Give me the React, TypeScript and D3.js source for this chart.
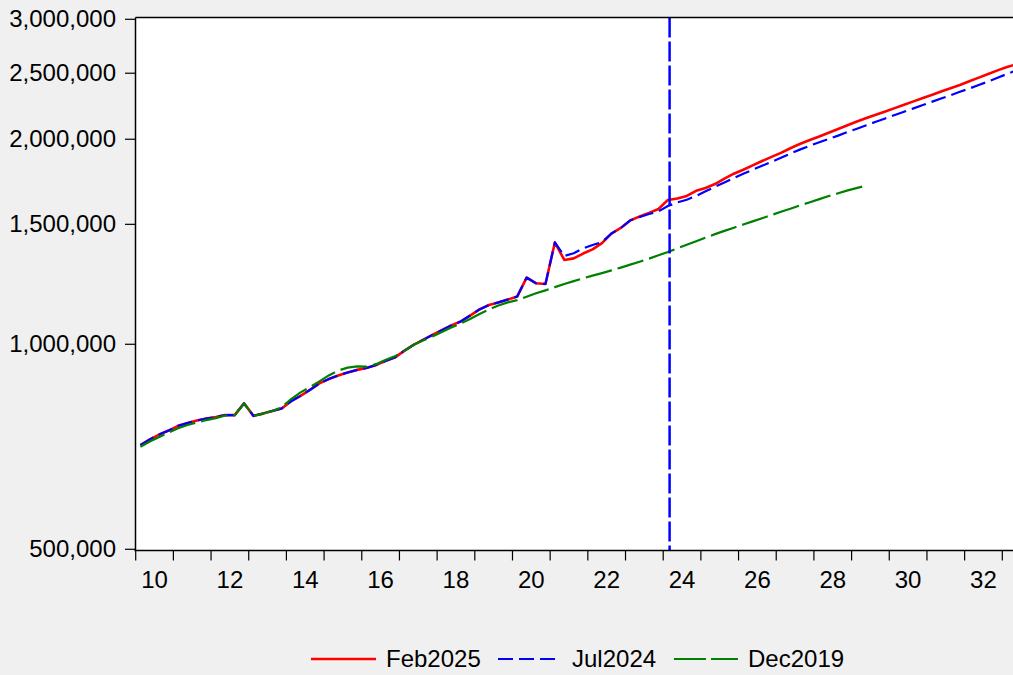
import React from "react";
import * as d3 from "d3";

// Quarterly observations, first quarter = 2010Q1
const START_YEAR = 2010;

const feb2025 = [
  711, 725, 737, 747,
  759, 766, 773, 778,
  782, 787, 787, 819,
  785, 791, 798, 805,
  825, 840, 857, 876,
  889, 900, 909, 917,
  923, 932, 945, 956,
  978, 998, 1015, 1032,
  1049, 1066, 1080, 1102,
  1125, 1142, 1152, 1163,
  1175, 1253, 1229, 1226,
  1411, 1330, 1337, 1359,
  1378, 1408, 1454, 1482,
  1520, 1540, 1559, 1580,
  1629, 1637, 1651, 1680,
  1696, 1719, 1751, 1780,
  1804, 1831, 1858, 1884,
  1910, 1940, 1968, 1993,
  2017, 2043, 2069, 2095,
  2122, 2147, 2171, 2195,
  2220, 2245, 2271, 2297,
  2323, 2350, 2377, 2403,
  2433, 2463, 2494, 2524,
  2553, 2577, 2606, 2635,
].map((v) => v * 1000);

const jul2024 = [
  711, 725, 737, 747,
  759, 766, 773, 778,
  782, 787, 787, 819,
  785, 791, 798, 805,
  825, 840, 857, 876,
  889, 900, 909, 917,
  923, 932, 945, 956,
  978, 998, 1015, 1032,
  1049, 1066, 1080, 1102,
  1125, 1142, 1152, 1163,
  1175, 1253, 1229, 1226,
  1411, 1348, 1360, 1383,
  1399, 1412, 1454, 1482,
  1520, 1538, 1553, 1567,
  1596, 1615, 1630, 1651,
  1677, 1703, 1728, 1754,
  1780, 1804, 1828, 1853,
  1878, 1905, 1931, 1955,
  1978, 2000, 2023, 2048,
  2071, 2095, 2120, 2144,
  2169, 2193, 2218, 2244,
  2269, 2295, 2321, 2348,
  2374, 2402, 2431, 2462,
  2494, 2525, 2556, 2588,
].map((v) => v * 1000);

const dec2019 = [
  707, 720, 731, 742,
  753, 761, 768, 774,
  779, 786, 786, 819,
  785, 791, 798, 808,
  831, 850, 865, 882,
  900, 915, 924, 928,
  927, 935, 948, 960,
  978, 998, 1013, 1027,
  1042, 1058, 1073, 1089,
  1108, 1125, 1140, 1152,
  1161, 1174, 1188, 1200,
  1213, 1226, 1238, 1250,
  1261, 1272, 1284, 1296,
  1309, 1322, 1336, 1351,
  1366, 1383, 1400, 1417,
  1434, 1451, 1467, 1483,
  1499, 1515, 1531, 1548,
  1565, 1581, 1599, 1615,
  1632, 1649, 1665, 1681,
  1695, 1709,
].map((v) => v * 1000);

const xTickYears = d3.range(2010, 2036);
const xLabelYears = d3.range(2010, 2034, 2);
const yTicks = [500000, 1000000, 1500000, 2000000, 2500000, 3000000];
const markerYear = 2024.17;

const seriesNames = ["Feb2025", "Jul2024", "Dec2019"];

const W = 1013;
const H = 675;
const FONT = "'Liberation Sans', Arial, Helvetica, sans-serif";

const x = d3.scaleLinear().domain([2010, 2033]).range([135.7, 1002.3]);
const y = d3.scaleLog().domain([500000, 3000000]).range([549.3, 19.3]);

const plotLeft = 135.5;
const plotTop = 17.5;
const plotBottom = 550.5;
const plotRight = x(2036);

const toPoints = (vals: number[]) =>
  vals.map((v, i) => [x(START_YEAR + (i + 0.5) / 4), y(v)] as [number, number]);

const line = d3.line<[number, number]>().x((d) => d[0]).y((d) => d[1]);

const fmt = d3.format(",");

export default function App() {
  const redPath = line(toPoints(feb2025)) || "";
  const bluePath = line(toPoints(jul2024)) || "";
  const greenPath = line(toPoints(dec2019)) || "";
  const mx = x(markerYear);

  return (
    <svg
      width={W}
      height={H}
      style={{ position: "absolute", left: 0, top: 0, display: "block" }}
      fontFamily={FONT}
    >
      <rect x={0} y={0} width={W} height={H} fill="#F0F0F0" />
      <defs>
        <clipPath id="plotclip">
          <rect x={plotLeft} y={plotTop} width={plotRight - plotLeft} height={plotBottom - plotTop} />
        </clipPath>
      </defs>
      <rect
        x={plotLeft}
        y={plotTop}
        width={plotRight - plotLeft}
        height={plotBottom - plotTop}
        fill="#FFFFFF"
      />

      <g clipPath="url(#plotclip)">
        <path d={redPath} fill="none" stroke="#FF0000" strokeWidth={2.6} strokeLinejoin="round" />
        <path
          d={bluePath}
          fill="none"
          stroke="#0000FF"
          strokeWidth={2.2}
          strokeDasharray="15,6"
          strokeLinejoin="round"
        />
        <path
          d={greenPath}
          fill="none"
          stroke="#008000"
          strokeWidth={2.2}
          strokeDasharray="27,6"
          strokeLinejoin="round"
        />
        <line
          x1={mx}
          x2={mx}
          y1={plotTop}
          y2={plotBottom}
          stroke="#0000FF"
          strokeWidth={2.5}
          strokeDasharray="20,4"
        />
      </g>

      {/* frame */}
      <line x1={plotLeft} x2={plotRight} y1={plotTop} y2={plotTop} stroke="#000" strokeWidth={1.5} />
      <line x1={plotLeft} x2={plotLeft} y1={plotTop} y2={plotBottom} stroke="#000" strokeWidth={1.5} />
      <line x1={plotLeft - 1} x2={plotRight} y1={plotBottom} y2={plotBottom} stroke="#000" strokeWidth={1.5} />

      {/* y axis */}
      {yTicks.map((t) => (
        <g key={t}>
          <line x1={125} x2={plotLeft} y1={y(t)} y2={y(t)} stroke="#000" strokeWidth={1.2} />
          <text x={116} y={y(t) + 7.5} textAnchor="end" fontSize={24} fill="#000">
            {fmt(t)}
          </text>
        </g>
      ))}

      {/* x axis */}
      {xTickYears.map((yr) => (
        <line
          key={yr}
          x1={x(yr)}
          x2={x(yr)}
          y1={plotBottom}
          y2={plotBottom + 10}
          stroke="#000"
          strokeWidth={1.2}
        />
      ))}
      {xLabelYears.map((yr) => (
        <text key={yr} x={x(yr + 0.5)} y={588} textAnchor="middle" fontSize={24} fill="#000">
          {String(yr % 100).padStart(2, "0")}
        </text>
      ))}

      {/* legend */}
      <g>
        <line x1={311} x2={376} y1={659} y2={659} stroke="#FF0000" strokeWidth={2.6} />
        <text x={386} y={667} fontSize={24} fill="#000">{seriesNames[0]}</text>
        <line x1={498} x2={557} y1={659} y2={659} stroke="#0000FF" strokeWidth={2.2} strokeDasharray="15,6" />
        <text x={572} y={667} fontSize={24} fill="#000">{seriesNames[1]}</text>
        <line x1={674} x2={738} y1={659} y2={659} stroke="#008000" strokeWidth={2.2} strokeDasharray="32,5" />
        <text x={748} y={667} fontSize={24} fill="#000">{seriesNames[2]}</text>
      </g>
    </svg>
  );
}
